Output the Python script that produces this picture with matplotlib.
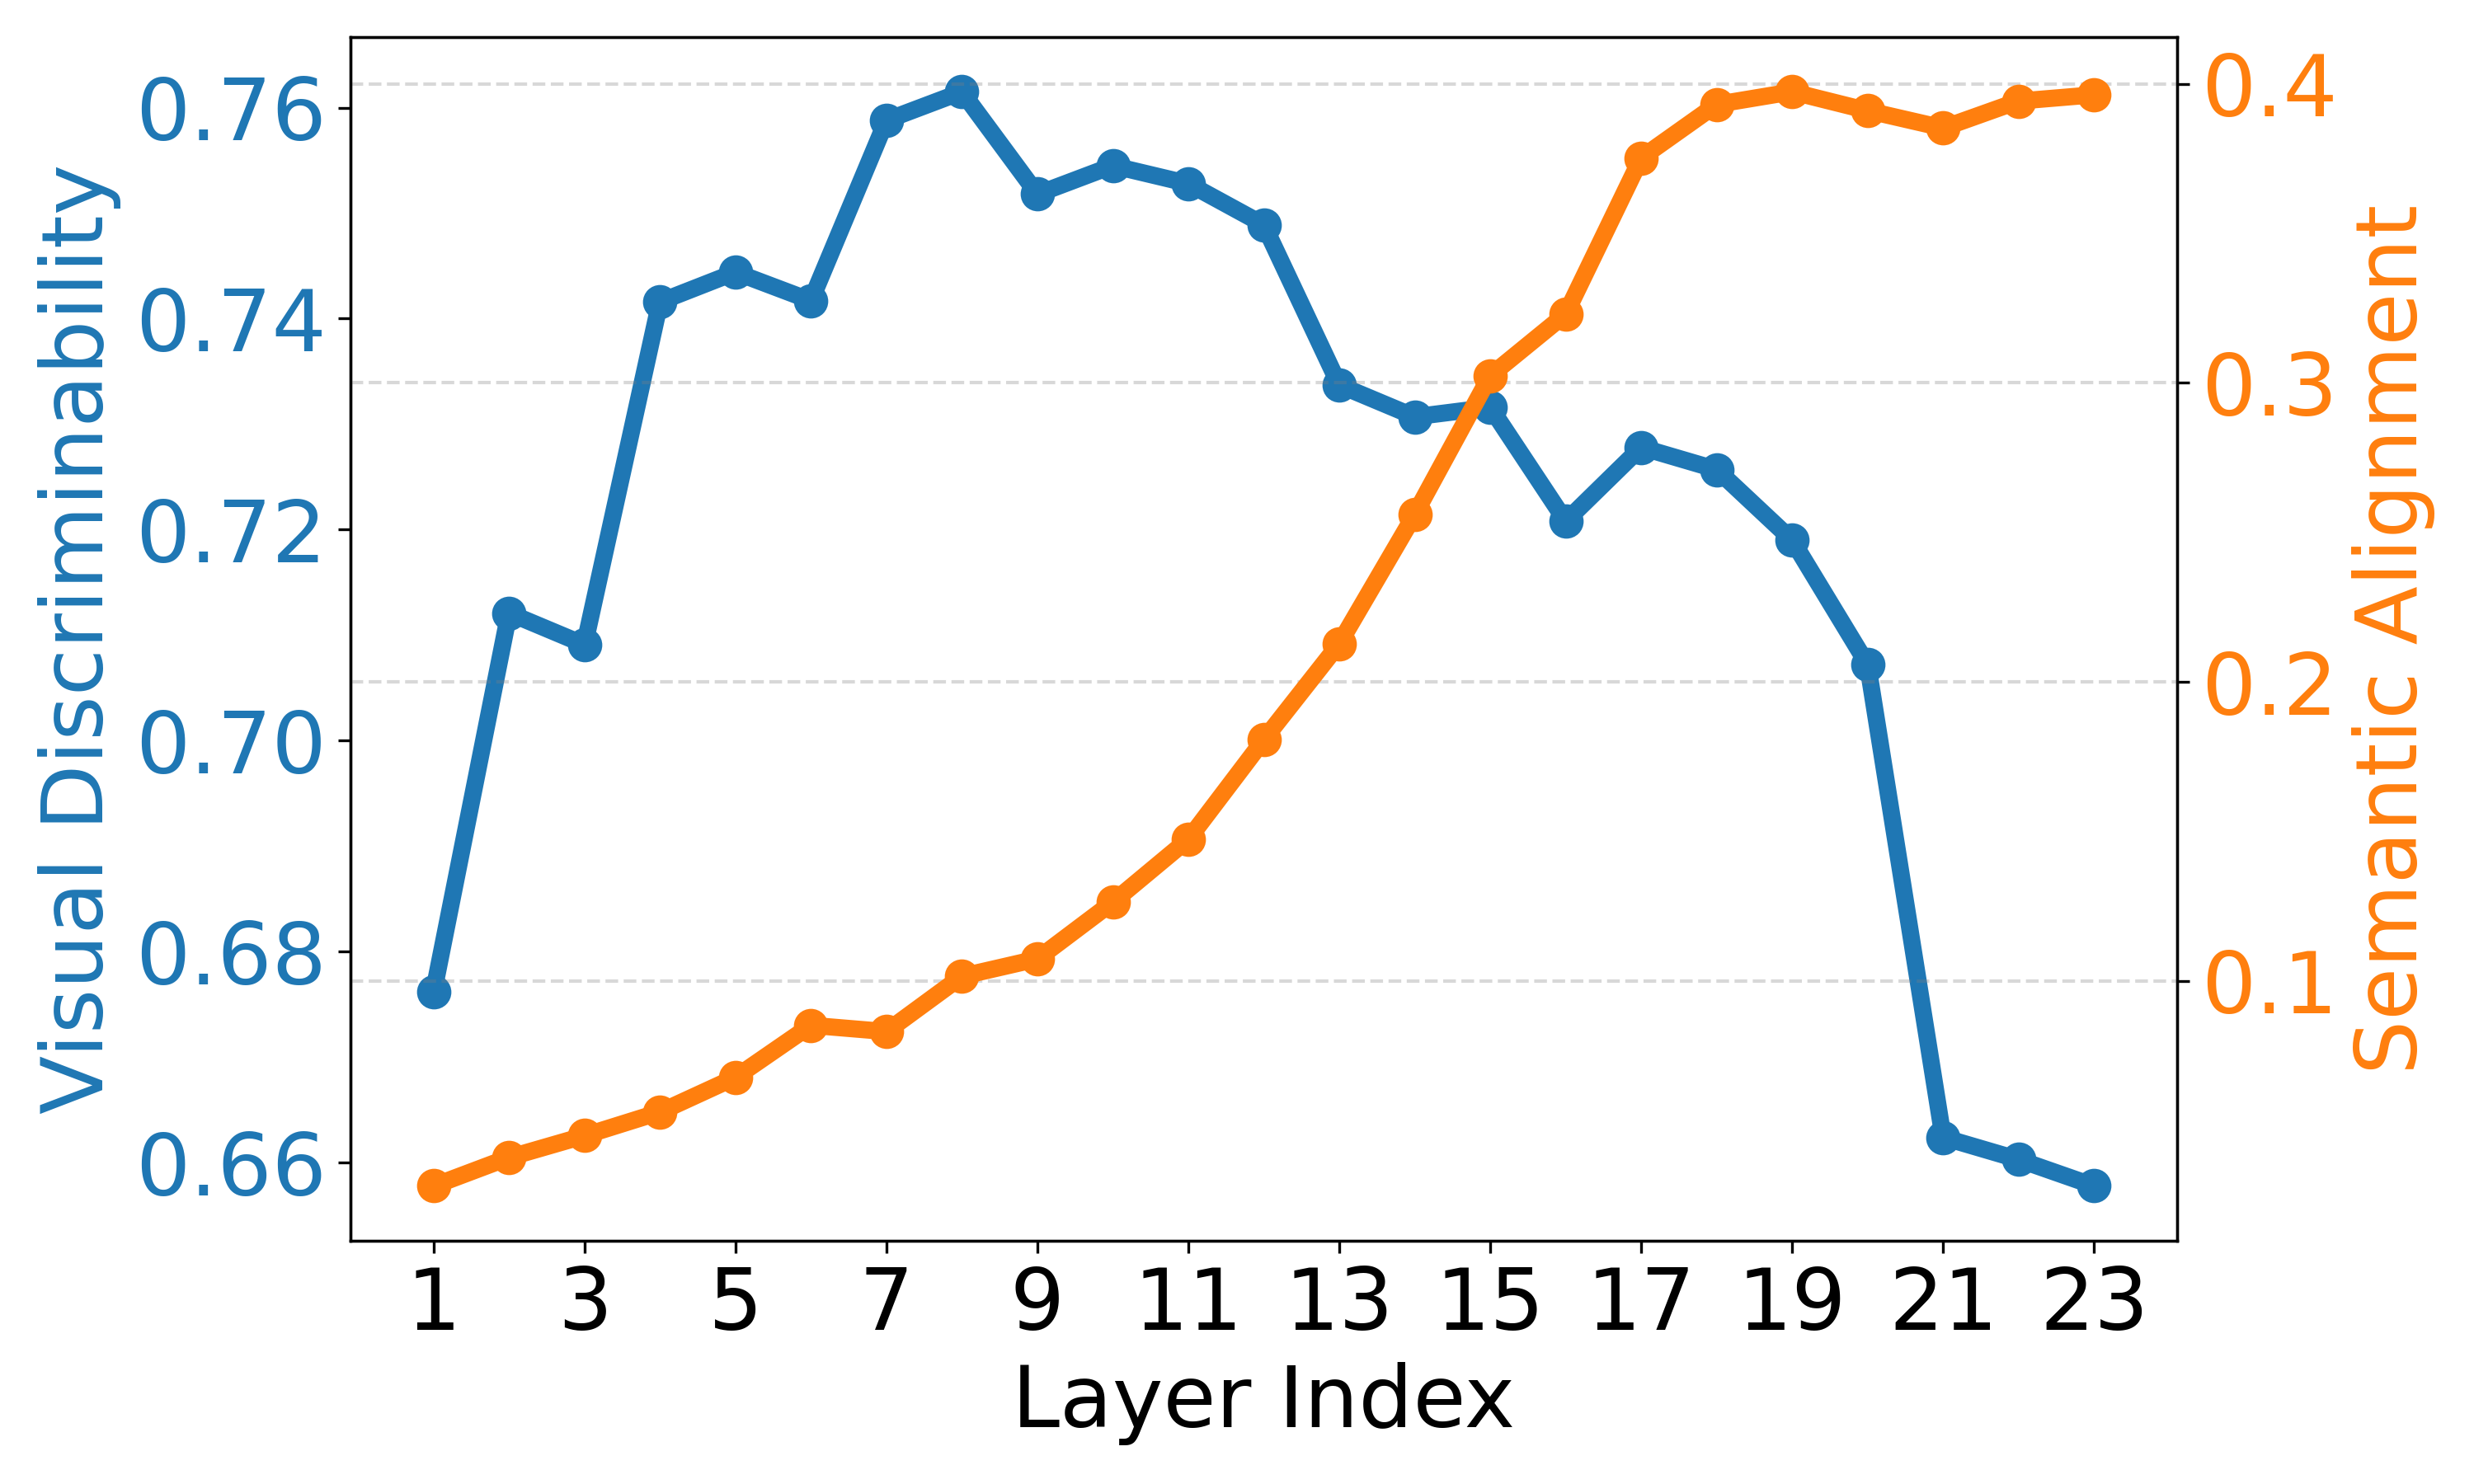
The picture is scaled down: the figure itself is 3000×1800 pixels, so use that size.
import matplotlib
matplotlib.use("Agg")
import matplotlib.pyplot as plt

layers = list(range(1, 24))
visual_disc = [0.6762, 0.7121, 0.7091, 0.7416, 0.7444, 0.7417, 0.7588, 0.7615,
               0.7518, 0.7545, 0.7528, 0.7489, 0.7337, 0.7307, 0.7316, 0.7208,
               0.7278, 0.7257, 0.7190, 0.7072, 0.6624, 0.6603, 0.6578]
semantic_align = [0.0315, 0.0410, 0.0483, 0.0562, 0.0678, 0.0852, 0.0831, 0.1016,
                  0.1074, 0.1264, 0.1474, 0.1807, 0.2128, 0.2560, 0.3024, 0.3230,
                  0.3752, 0.3931, 0.3973, 0.3910, 0.3852, 0.3942, 0.3963]
xticks = list(range(1, 24, 2))

c1 = "#1f77b4"
c2 = "#ff7f0e"

fig, ax1 = plt.subplots(figsize=(10, 6), dpi=300)
fig.subplots_adjust(left=0.1417, right=0.880, bottom=0.164, top=0.975)

ax1.plot(layers, visual_disc, color=c1, marker="o", linewidth=5, markersize=9)
ax1.set_xlabel("Layer Index", fontsize=25)
ax1.set_ylabel("Visual Discriminability", color=c1, fontsize=25)
ax1.tick_params(axis="y", labelcolor=c1, labelsize=25)
ax1.tick_params(axis="x", labelsize=25)
ax1.set_xticks(xticks)

ax2 = ax1.twinx()
ax2.plot(layers, semantic_align, color=c2, marker="o", linewidth=5, markersize=9)
ax2.set_ylabel("Semantic Alignment", color=c2, fontsize=25)
ax2.tick_params(axis="y", labelcolor=c2, labelsize=25)
ax2.set_yticks([0.1, 0.2, 0.3, 0.4])
ax2.grid(True, axis="y", linestyle="--", color="gray", alpha=0.3, linewidth=1)

fig.savefig("out.png", dpi=300)
